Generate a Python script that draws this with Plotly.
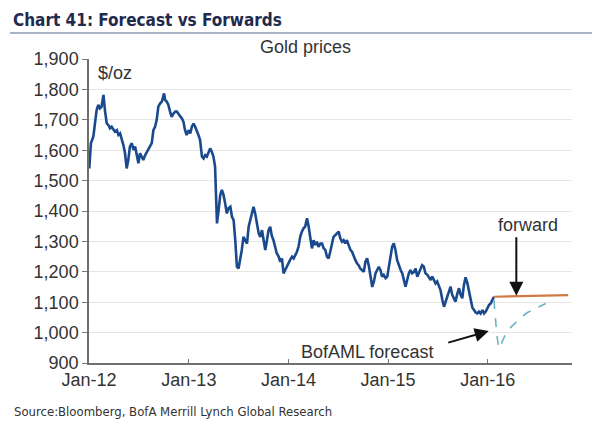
import plotly.graph_objects as go

# ---- Data ----
gold_dates = [
    "2012-01-02","2012-01-08","2012-01-17","2012-01-23","2012-01-29","2012-02-04","2012-02-10","2012-02-16",
    "2012-02-23","2012-02-29","2012-03-06","2012-03-12","2012-03-18","2012-03-24","2012-04-05","2012-04-12",
    "2012-04-18","2012-04-24","2012-04-30","2012-05-06","2012-05-12","2012-05-18","2012-05-24","2012-05-30",
    "2012-06-06","2012-06-12","2012-06-18","2012-06-24","2012-06-30","2012-07-06","2012-07-12","2012-07-18",
    "2012-07-25","2012-07-31","2012-08-06","2012-08-12","2012-08-18","2012-08-24","2012-08-30","2012-09-05",
    "2012-09-11","2012-09-18","2012-09-24","2012-10-02","2012-10-06","2012-10-12","2012-10-18","2012-10-24",
    "2012-10-30","2012-11-06","2012-11-12","2012-11-18","2012-11-24","2012-11-30","2012-12-06","2012-12-12",
    "2012-12-18","2012-12-24","2012-12-31","2013-01-06","2013-01-12","2013-01-18","2013-01-24","2013-01-30",
    "2013-02-05","2013-02-11","2013-02-18","2013-02-24","2013-03-02","2013-03-08","2013-03-14","2013-03-20",
    "2013-03-26","2013-04-01","2013-04-07","2013-04-11","2013-04-14","2013-04-20","2013-04-26","2013-05-02",
    "2013-05-08","2013-05-14","2013-05-20","2013-05-26","2013-06-02","2013-06-08","2013-06-14","2013-06-20",
    "2013-06-26","2013-07-02","2013-07-08","2013-07-14","2013-07-20","2013-07-27","2013-08-02","2013-08-08",
    "2013-08-14","2013-08-20","2013-08-26","2013-09-01","2013-09-07","2013-09-14","2013-09-20","2013-09-26",
    "2013-10-02","2013-10-08","2013-10-14","2013-10-20","2013-10-26","2013-11-01","2013-11-07","2013-11-13",
    "2013-11-19","2013-11-26","2013-12-02","2013-12-08","2013-12-14","2013-12-20","2013-12-26","2014-01-01",
    "2014-01-07","2014-01-14","2014-01-20","2014-01-26","2014-02-01","2014-02-07","2014-02-13","2014-02-19",
    "2014-02-25","2014-03-03","2014-03-10","2014-03-16","2014-03-22","2014-03-28","2014-04-03","2014-04-09",
    "2014-04-15","2014-04-21","2014-04-28","2014-05-04","2014-05-10","2014-05-16","2014-05-22","2014-05-28",
    "2014-06-03","2014-06-09","2014-06-15","2014-06-22","2014-06-28","2014-07-04","2014-07-10","2014-07-16",
    "2014-07-22","2014-07-28","2014-08-03","2014-08-10","2014-08-16","2014-08-22","2014-08-28","2014-09-03",
    "2014-09-09","2014-09-15","2014-09-21","2014-09-28","2014-10-04","2014-10-10","2014-10-16","2014-10-22",
    "2014-10-28","2014-11-04","2014-11-10","2014-11-16","2014-11-22","2014-11-28","2014-12-04","2014-12-10",
    "2014-12-16","2014-12-23","2014-12-29","2015-01-04","2015-01-10","2015-01-16","2015-01-22","2015-01-28",
    "2015-02-03","2015-02-10","2015-02-16","2015-02-22","2015-02-28","2015-03-06","2015-03-12","2015-03-18",
    "2015-03-24","2015-03-30","2015-04-06","2015-04-12","2015-04-18","2015-04-24","2015-04-30","2015-05-06",
    "2015-05-12","2015-05-18","2015-05-25","2015-05-31","2015-06-06","2015-06-12","2015-06-18","2015-06-24",
    "2015-06-30","2015-07-06","2015-07-12","2015-07-19","2015-07-25","2015-07-31","2015-08-06","2015-08-12",
    "2015-08-18","2015-08-24","2015-08-30","2015-09-05","2015-09-12","2015-09-18","2015-09-24","2015-09-30",
    "2015-10-06","2015-10-12","2015-10-18","2015-10-24","2015-10-31","2015-11-06","2015-11-12","2015-11-18",
    "2015-11-24","2015-11-30","2015-12-06","2015-12-13","2015-12-19","2015-12-25","2015-12-31","2016-01-06",
    "2016-01-12","2016-01-18","2016-01-24",
]
gold_prices = [
    1540,1623,1645,1688,1732,1749,1738,1743,
    1782,1727,1688,1683,1672,1677,1661,1666,
    1650,1655,1639,1617,1590,1540,1568,1612,
    1623,1601,1612,1579,1557,1590,1579,1568,
    1584,1595,1601,1612,1623,1666,1677,1699,
    1743,1754,1760,1787,1765,1760,1749,1727,
    1710,1721,1727,1727,1721,1712,1705,1694,
    1666,1650,1666,1655,1677,1688,1677,1666,
    1650,1634,1579,1573,1584,1579,1595,1606,
    1595,1579,1546,1447,1359,1403,1453,1469,
    1453,1425,1392,1409,1414,1381,1370,1304,
    1217,1211,1239,1272,1315,1304,1293,1348,
    1370,1392,1414,1392,1359,1326,1315,1337,
    1304,1272,1304,1337,1348,1318,1304,1277,
    1261,1250,1233,1244,1195,1206,1217,1233,
    1239,1250,1244,1255,1266,1283,1315,1332,
    1343,1348,1376,1348,1310,1277,1304,1288,
    1299,1282,1293,1293,1277,1272,1250,1244,
    1266,1293,1315,1321,1326,1332,1310,1299,
    1304,1293,1304,1288,1272,1266,1250,1239,
    1228,1222,1211,1206,1200,1233,1244,1222,
    1180,1150,1168,1195,1206,1216,1206,1184,
    1190,1179,1184,1222,1261,1283,1294,1272,
    1239,1217,1206,1195,1168,1151,1173,1195,
    1206,1195,1200,1211,1184,1195,1206,1222,
    1217,1195,1190,1179,1173,1184,1173,1162,
    1168,1151,1140,1107,1085,1102,1118,1129,
    1151,1124,1113,1102,1129,1146,1124,1113,
    1157,1182,1165,1140,1100,1082,1074,1066,
    1063,1069,1063,1074,1063,1069,1080,1091,
    1096,1107,1118,
]

forward_dates = ["2016-01-24", "2016-04-15", "2016-07-15", "2016-10-22"]
forward_prices = [1118, 1120, 1122, 1123]

forecast_dates = ["2016-01-24", "2016-02-12", "2016-02-24", "2016-03-13", "2016-04-07",
                  "2016-05-01", "2016-05-26", "2016-07-01", "2016-08-01"]
forecast_prices = [1107, 948, 972, 1005, 1028, 1049, 1066, 1082, 1096]

y_ticks = [900, 1000, 1100, 1200, 1300, 1400, 1500, 1600, 1700, 1800, 1900]
y_tick_labels = ["900", "1,000", "1,100", "1,200", "1,300", "1,400", "1,500", "1,600", "1,700", "1,800", "1,900"]
x_ticks = ["2012-01-01", "2013-01-01", "2014-01-01", "2015-01-01", "2016-01-01"]
x_tick_labels = ["Jan-12", "Jan-13", "Jan-14", "Jan-15", "Jan-16"]

FONT = "Liberation Sans, Arial, sans-serif"
NARROW = "Liberation Sans Narrow, DejaVu Sans Condensed, Arial Narrow, sans-serif"
PW, PH = 483.0, 304.0  # plot area size in px (left=89, top=59 on page)

fig = go.Figure()
fig.add_trace(go.Scatter(x=gold_dates, y=gold_prices, mode="lines",
                         line=dict(color="#1a4a8d", width=2.6), showlegend=False))
fig.add_trace(go.Scatter(x=forecast_dates, y=forecast_prices, mode="lines",
                         line=dict(color="#6ab4c6", width=1.6, dash="dash", shape="spline", smoothing=0.6),
                         showlegend=False))
fig.add_trace(go.Scatter(x=forward_dates, y=forward_prices, mode="lines",
                         line=dict(color="#d27a45", width=2.2), showlegend=False))

fig.update_layout(
    width=600, height=445,
    margin=dict(l=81, r=36, t=51, b=90),
    paper_bgcolor="white", plot_bgcolor="white",
    font=dict(family=FONT, size=18, color="#333333"),
    xaxis=dict(
        type="date", range=["2012-01-01", "2016-11-05"],
        tickvals=x_ticks, ticktext=x_tick_labels,
        ticks="inside", ticklen=4, tickcolor="#777777",
        showline=True, linecolor="#6f6f6f", linewidth=1.5,
        showgrid=False, zeroline=False,
        tickfont=dict(family=FONT, size=18, color="#333333"),
    ),
    yaxis=dict(
        range=[900, 1900],
        tickvals=y_ticks, ticktext=y_tick_labels,
        ticks="outside", ticklen=5, tickcolor="#777777",
        showline=True, linecolor="#6f6f6f", linewidth=1.5,
        showgrid=True, gridcolor="#e6e6e6", gridwidth=1,
        zeroline=False,
        tickfont=dict(family=FONT, size=18, color="#333333"),
    ),
)

def px(xpage):
    return (xpage - 89) / PW

def py(ypage):
    return (363 - ypage) / PH

# Title and rule
fig.add_annotation(xref="paper", yref="paper", x=px(11), y=py(20), xanchor="left", yanchor="middle",
                   text="<b>Chart 41: Forecast vs Forwards</b>", showarrow=False,
                   font=dict(family=NARROW, size=17, color="#1f2a4c"))
fig.add_shape(type="line", xref="paper", yref="paper", x0=px(10), x1=px(600), y0=py(33), y1=py(33),
              line=dict(color="#8a9db5", width=1.5))
fig.add_annotation(xref="paper", yref="paper", x=px(305), y=py(47), xanchor="center", yanchor="middle",
                   text="Gold prices", showarrow=False, font=dict(family=FONT, size=18, color="#333333"))
fig.add_annotation(xref="paper", yref="paper", x=px(96), y=py(73), xanchor="left", yanchor="middle",
                   text="$/oz", showarrow=False, font=dict(family=FONT, size=18, color="#333333"))

# Arrows
fig.add_annotation(x="2016-04-15", y=1121, ax=0, ay=-60, xref="x", yref="y", text="",
                   showarrow=True, arrowhead=2, arrowsize=1.4, arrowwidth=2, arrowcolor="#111111")
fig.add_annotation(xref="paper", yref="paper", x=px(528), y=py(225), xanchor="center", yanchor="middle",
                   text="forward", showarrow=False, font=dict(family=FONT, size=18, color="#333333"))
fig.add_annotation(x="2016-01-05", y=1005, ax=-42, ay=12, xref="x", yref="y", text="",
                   showarrow=True, arrowhead=2, arrowsize=1.4, arrowwidth=2, arrowcolor="#111111")
fig.add_annotation(xref="paper", yref="paper", x=px(367), y=py(352), xanchor="center", yanchor="middle",
                   text="BofAML forecast", showarrow=False,
                   font=dict(family=FONT, size=18, color="#333333"))

# Source
fig.add_annotation(xref="paper", yref="paper", x=px(12), y=py(411), xanchor="left", yanchor="middle",
                   text="Source:Bloomberg, BofA Merrill Lynch Global Research", showarrow=False,
                   font=dict(family=NARROW, size=13, color="#333333"))

fig.write_html("out.html")
